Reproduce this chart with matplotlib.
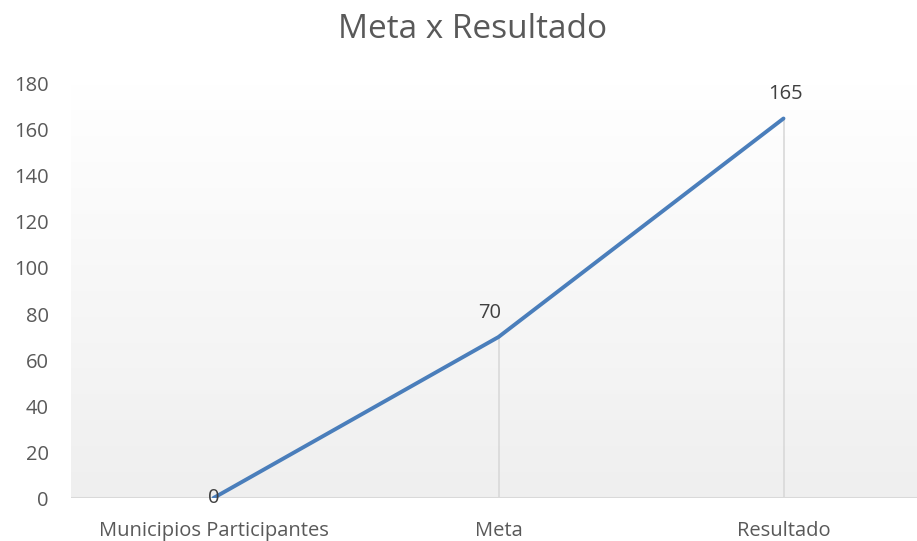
import numpy as np
import matplotlib
matplotlib.use("Agg")
import matplotlib.pyplot as plt

categorias = ["Municipios Participantes", "Meta", "Resultado"]
valores = [0, 70, 165]
y_ticks = [0, 20, 40, 60, 80, 100, 120, 140, 160, 180]

plt.rcParams['font.family'] = ['Open Sans', 'DejaVu Sans']

W, H = 917, 541
fig = plt.figure(figsize=(W / 100, H / 100), dpi=100)
# area del grafico en pixeles
left, right, top, bottom = 71, 917, 84, 498
ax = fig.add_axes([left / W, 1 - bottom / H, (right - left) / W, (bottom - top) / H])

x = np.arange(len(categorias))
xmax = -0.5 + (right - left) / 285
ax.set_xlim(-0.5, xmax)
ax.set_ylim(0, 180)

# fondo degradado blanco -> gris claro
grad = np.linspace(1.0, 0.0, 256).reshape(-1, 1)
ax.imshow(grad, extent=[-0.5, xmax, 0, 180], aspect='auto',
          cmap=matplotlib.colors.LinearSegmentedColormap.from_list('g', ['#efefef', '#ffffff']),
          zorder=0, origin='upper')

# lineas de caida
for xi, v in zip(x, valores):
    ax.plot([xi, xi], [0, v], color='#d9d9d9', lw=1.2, zorder=1)

# eje horizontal
ax.axhline(0, color='#d9d9d9', lw=1.5, zorder=2)

ax.plot(x, valores, color='#4a7ebb', lw=2.8, solid_capstyle='round', zorder=3)

fs = 14.5
for xi, v in zip(x, valores):
    if v == 0:
        ax.text(xi, v, str(v), ha='center', va='center', fontsize=fs, color='#404040', zorder=4)
    else:
        ax.annotate(str(v), (xi, v), xytext=(-9 if xi == 1 else 2, 14), textcoords='offset pixels',
                    ha='center', va='bottom', fontsize=fs, color='#404040', zorder=4)

for s in ax.spines.values():
    s.set_visible(False)
ax.set_xticks(x)
ax.set_xticklabels(categorias, fontsize=fs, color='#595959')
ax.set_yticks(y_ticks)
ax.set_yticklabels([str(t) for t in y_ticks], fontsize=fs, color='#595959')
ax.tick_params(axis='both', length=0)
ax.tick_params(axis='x', pad=16.5)
ax.tick_params(axis='y', pad=16)

fig.text(473 / W, 1 - 30 / H, "Meta x Resultado", ha='center', va='center',
         fontsize=24, color='#595959')

fig.savefig("out.png", dpi=100)
